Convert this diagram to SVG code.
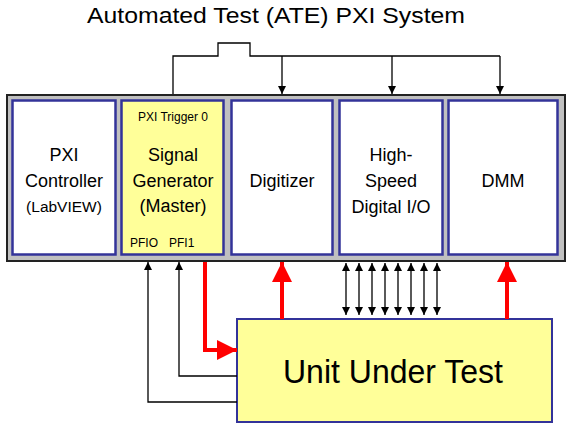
<svg xmlns="http://www.w3.org/2000/svg" width="572" height="427" viewBox="0 0 572 427">
<defs>
<style>
text{font-family:"Liberation Sans",Arial,sans-serif;fill:#000}
.slot{stroke:#333399;stroke-width:2.5}
.w{fill:#fff}
.y{fill:#ffff99}
.lbl{font-size:18px;text-anchor:middle}
.lv{font-size:15.5px;text-anchor:middle}
.small{font-size:12px}
.blk{stroke:#000;stroke-width:1.3;fill:none}
.red{stroke:#ff0000;stroke-width:4;fill:none}
</style>
<marker id="ab" viewBox="0 0 10 10" refX="10" refY="5" markerWidth="8" markerHeight="9" markerUnits="userSpaceOnUse" orient="auto"><path d="M0,0 L10,5 L0,10 z" fill="#000"/></marker>
<marker id="abs" viewBox="0 0 10 10" refX="10" refY="5" markerWidth="8" markerHeight="9" markerUnits="userSpaceOnUse" orient="auto-start-reverse"><path d="M0,0 L10,5 L0,10 z" fill="#000"/></marker>
<marker id="ar" viewBox="0 0 10 10" refX="10" refY="5" markerWidth="20" markerHeight="20" markerUnits="userSpaceOnUse" orient="auto"><path d="M0,0 L10,5 L0,10 z" fill="#ff0000"/></marker>
</defs>
<rect width="572" height="427" fill="#fff"/>
<text x="276" y="23" font-size="22.5" text-anchor="middle" textLength="378" lengthAdjust="spacingAndGlyphs">Automated Test (ATE) PXI System</text>

<g id="chassis">
<rect x="7" y="95" width="558" height="166" fill="#c0c0c0" stroke="#222" stroke-width="2"/>
</g>
<g id="controller">
<rect class="slot w" x="12.5" y="100.5" width="103" height="154"/>
<text class="lbl" x="64" y="161">PXI</text>
<text class="lbl" x="64" y="187">Controller</text>
<text class="lv" x="64" y="212">(LabVIEW)</text>
</g>
<g id="siggen">
<rect class="slot y" x="121.5" y="100.5" width="102" height="154"/>
<text class="small" x="173" y="121" text-anchor="middle">PXI Trigger 0</text>
<text class="lbl" x="173" y="161">Signal</text>
<text class="lbl" x="173" y="187">Generator</text>
<text class="lbl" x="173" y="212">(Master)</text>
<text class="small" x="130" y="247">PFIO</text>
<text class="small" x="169" y="247">PFI1</text>
</g>
<g id="digitizer">
<rect class="slot w" x="231.5" y="100.5" width="101" height="154"/>
<text class="lbl" x="282" y="187">Digitizer</text>
</g>
<g id="hsdio">
<rect class="slot w" x="339.5" y="100.5" width="103" height="154"/>
<text class="lbl" x="391" y="161">High-</text>
<text class="lbl" x="391" y="187">Speed</text>
<text class="lbl" x="391" y="213">Digital I/O</text>
</g>
<g id="dmm">
<rect class="slot w" x="448.5" y="100.5" width="109" height="154"/>
<text class="lbl" x="503" y="187">DMM</text>
</g>
<g id="uut">
<rect x="237" y="319" width="315" height="103" fill="#ffff99" stroke="#333399" stroke-width="2"/>
<text x="393" y="383" font-size="34" text-anchor="middle" textLength="220" lengthAdjust="spacingAndGlyphs">Unit Under Test</text>
</g>

<g id="connectors">
<path class="blk" d="M173,94 V56 H218 V43 H250 V56 H500"/>
<path class="blk" d="M282,56 V94" marker-end="url(#ab)"/>
<path class="blk" d="M392,56 V94" marker-end="url(#ab)"/>
<path class="blk" d="M500,56 V94" marker-end="url(#ab)"/>
<path class="blk" d="M237,402 H148 V262" marker-end="url(#ab)"/>
<path class="blk" d="M237,376 H179 V262" marker-end="url(#ab)"/>
<path class="red" d="M205,262 V350 H237" marker-end="url(#ar)"/>
<path class="red" d="M282,319 V262" marker-end="url(#ar)"/>
<path class="red" d="M507,319 V262" marker-end="url(#ar)"/>
<path class="blk" d="M346,263 V315" marker-start="url(#abs)" marker-end="url(#ab)"/>
<path class="blk" d="M359,263 V315" marker-start="url(#abs)" marker-end="url(#ab)"/>
<path class="blk" d="M372,263 V315" marker-start="url(#abs)" marker-end="url(#ab)"/>
<path class="blk" d="M385,263 V315" marker-start="url(#abs)" marker-end="url(#ab)"/>
<path class="blk" d="M398,263 V315" marker-start="url(#abs)" marker-end="url(#ab)"/>
<path class="blk" d="M411,263 V315" marker-start="url(#abs)" marker-end="url(#ab)"/>
<path class="blk" d="M424,263 V315" marker-start="url(#abs)" marker-end="url(#ab)"/>
<path class="blk" d="M437,263 V315" marker-start="url(#abs)" marker-end="url(#ab)"/>
</g>
</svg>
